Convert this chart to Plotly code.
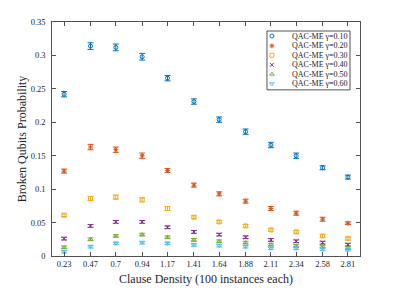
import plotly.graph_objects as go

density = [0.23, 0.47, 0.7, 0.94, 1.17, 1.41, 1.64, 1.88, 2.11, 2.34, 2.58, 2.81]
tick_labels = ["0.23", "0.47", "0.7", "0.94", "1.17", "1.41", "1.64", "1.88", "2.11", "2.34", "2.58", "2.81"]

g010 = [0.242, 0.314, 0.312, 0.298, 0.266, 0.231, 0.204, 0.186, 0.166, 0.150, 0.132, 0.118]
g020 = [0.127, 0.163, 0.159, 0.150, 0.128, 0.106, 0.093, 0.082, 0.071, 0.064, 0.055, 0.049]
g030 = [0.061, 0.086, 0.088, 0.084, 0.071, 0.058, 0.051, 0.045, 0.039, 0.036, 0.030, 0.026]
g040 = [0.026, 0.045, 0.051, 0.051, 0.043, 0.036, 0.032, 0.028, 0.024, 0.022, 0.020, 0.017]
g050 = [0.013, 0.025, 0.030, 0.032, 0.028, 0.024, 0.022, 0.020, 0.017, 0.015, 0.014, 0.012]
g060 = [0.0065, 0.014, 0.019, 0.020, 0.019, 0.0165, 0.0155, 0.014, 0.0115, 0.0115, 0.010, 0.0095]

e010 = [0.004, 0.005, 0.005, 0.005, 0.004, 0.004, 0.004, 0.004, 0.004, 0.004, 0.003, 0.003]
e020 = [0.003, 0.004, 0.004, 0.004, 0.003, 0.003, 0.003, 0.003, 0.003, 0.003, 0.003, 0.002]
e030 = [0.002, 0.003, 0.003, 0.003, 0.003, 0.002, 0.002, 0.002, 0.002, 0.002, 0.002, 0.002]
e040 = [0.002, 0.002, 0.002, 0.002, 0.002, 0.002, 0.002, 0.002, 0.002, 0.002, 0.002, 0.002]
e050 = [0.002, 0.002, 0.002, 0.002, 0.002, 0.002, 0.002, 0.002, 0.002, 0.002, 0.002, 0.002]
e060 = [0.002, 0.002, 0.002, 0.002, 0.002, 0.002, 0.002, 0.002, 0.002, 0.002, 0.002, 0.002]

names = ["QAC-ME γ=0.10", "QAC-ME γ=0.20", "QAC-ME γ=0.30",
         "QAC-ME γ=0.40", "QAC-ME γ=0.50", "QAC-ME γ=0.60"]

series = [g010, g020, g030, g040, g050, g060]
errors = [e010, e020, e030, e040, e050, e060]
colors = ["#0072BD", "#D95319", "#EDB120", "#7E2F8E", "#77AC30", "#4DBEEE"]
symbols = ["circle-open", "asterisk-open", "square-open", "x-thin-open",
           "triangle-up-open", "triangle-down-open"]

FONT = "Liberation Serif"
AX = "#262626"

fig = go.Figure()
for ys, es, c, s, n in zip(series, errors, colors, symbols, names):
    fig.add_trace(go.Scatter(
        x=density, y=ys, mode="markers", name=n, showlegend=False, hoverinfo="skip",
        marker=dict(symbol=s, size=4, color=c, line=dict(color=c, width=1)),
        error_y=dict(type="data", array=es, visible=True, color=c, thickness=1, width=3),
    ))

# manual legend (box, markers on overlay axes, text annotations)
leg_y = [0.940, 0.898, 0.858, 0.817, 0.777, 0.736]
for yy, c, s in zip(leg_y, colors, symbols):
    fig.add_trace(go.Scatter(
        x=[0.714], y=[yy], mode="markers", xaxis="x2", yaxis="y2", showlegend=False,
        hoverinfo="skip",
        marker=dict(symbol=s, size=4, color=c, line=dict(color=c, width=1)),
    ))
for yy, n in zip(leg_y, names):
    fig.add_annotation(x=0.772, y=yy, xref="paper", yref="paper", text=n,
                       showarrow=False, xanchor="left", yanchor="middle",
                       font=dict(family=FONT, size=8, color="#222"))
fig.add_shape(type="rect", xref="paper", yref="paper", x0=0.698, x1=0.9675,
              y0=0.710, y1=0.9615, line=dict(color=AX, width=0.8), fillcolor="white",
              layer="below")

axis_common = dict(showline=True, linecolor=AX, linewidth=0.8, mirror="ticks",
                   ticks="inside", ticklen=4, tickwidth=0.8, tickcolor=AX,
                   showgrid=False, zeroline=False, automargin=False,
                   showspikes=False,
                   tickfont=dict(family=FONT, size=8.5, color="#262626"))

fig.update_layout(
    template="none",
    width=399, height=288,
    margin=dict(l=52, r=39, t=22, b=32),
    plot_bgcolor="white", paper_bgcolor="white",
    hovermode=False,
    xaxis=dict(range=[0.12, 2.92], tickvals=density, ticktext=tick_labels,
               title=dict(text="Clause Density (100 instances each)", standoff=6,
                          font=dict(family=FONT, size=12, color="#262626")),
               **axis_common),
    yaxis=dict(range=[0, 0.35], tickvals=[0, 0.05, 0.1, 0.15, 0.2, 0.25, 0.3, 0.35],
               ticktext=["0", "0.05", "0.1", "0.15", "0.2", "0.25", "0.3", "0.35"],
               ticklabelstandoff=4,
               title=dict(text="Broken Qubits Probability", standoff=1,
                          font=dict(family=FONT, size=12, color="#262626")),
               **axis_common),
    xaxis2=dict(overlaying="x", range=[0, 1], visible=False),
    yaxis2=dict(overlaying="y", range=[0, 1], visible=False),
    showlegend=False,
)

fig.write_html("out.html", config={"displayModeBar": False, "staticPlot": True},
               post_script="document.body.style.margin='0';document.body.style.padding='0';")
